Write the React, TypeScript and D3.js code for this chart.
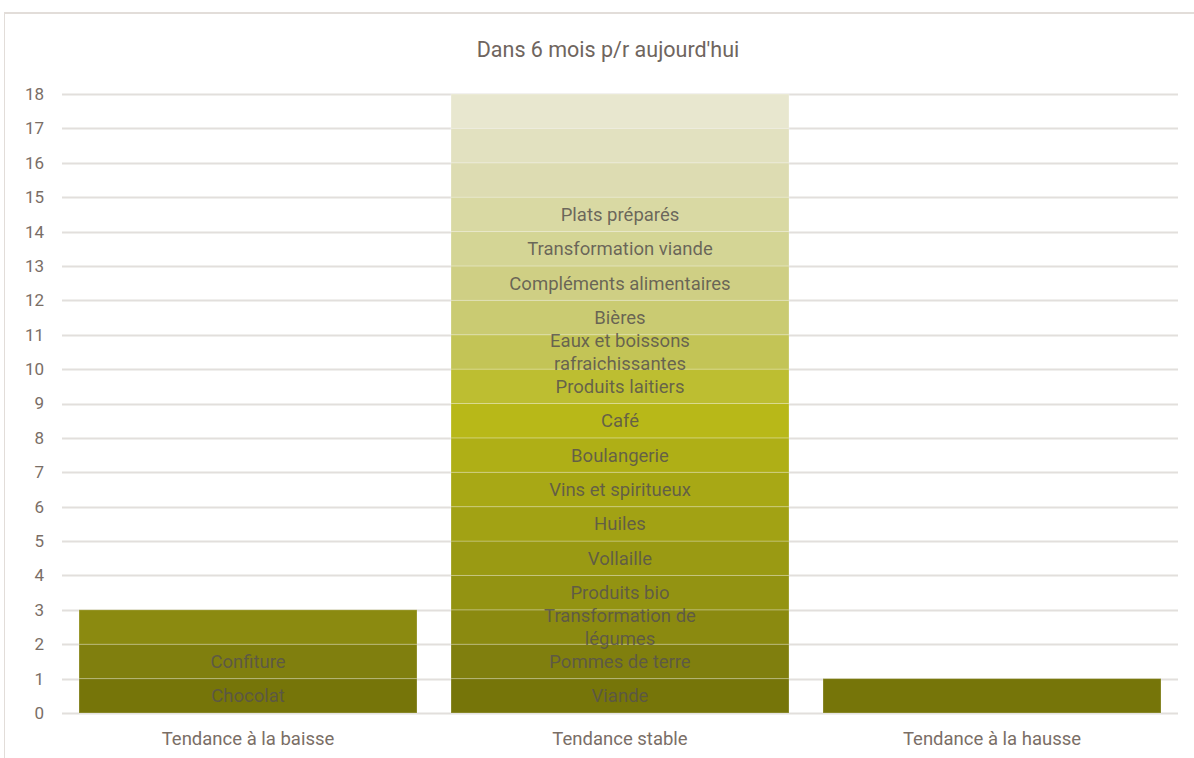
import React from 'react';
import * as d3 from 'd3';

const title = "Dans 6 mois p/r aujourd'hui";
const categories = ['Tendance à la baisse', 'Tendance stable', 'Tendance à la hausse'];

// one label per stacked segment (series order from bottom), '' = no label
const baisseLabels = ['Chocolat', 'Confiture', ''];
const stableLabels = [
    'Viande', 'Pommes de terre', 'Transformation de légumes', 'Produits bio', 'Vollaille',
    'Huiles', 'Vins et spiritueux', 'Boulangerie', 'Café', 'Produits laitiers',
    'Eaux et boissons rafraichissantes', 'Bières', 'Compléments alimentaires',
    'Transformation viande', 'Plats préparés', '', '', '',
];
const hausseLabels = [''];

const baisseValues = [1, 1, 1];
const stableValues = [1, 1, 1, 1, 1, 1, 1, 1, 1, 1, 1, 1, 1, 1, 1, 1, 1, 1];
const hausseValues = [1];

const yTicks = d3.range(0, 19);

// series colours, bottom to top
const seriesColors = [
    '#767509', '#807f0e', '#8b8a10', '#939312', '#9a9a13', '#a2a214',
    '#a8a815', '#afaf16', '#b8b818', '#bdbe31', '#c3c456', '#cacb72',
    '#cfcf84', '#d4d595', '#d9d9a3', '#dddcb2', '#e2e1c0', '#e8e7cf',
];

const groups = [
    { labels: baisseLabels, values: baisseValues },
    { labels: stableLabels, values: stableValues },
    { labels: hausseLabels, values: hausseValues },
];

const margin = { top: 94, left: 62, right: 16, bottom: 45 };
const W = 1194;
const H = 758;

// split a label in lines of 24 chars max
const wrap = (text: string) => {
    const words = text.split(' ');
    const lines: string[] = [];
    let cur = '';
    words.forEach((w) => {
        const next = cur ? `${cur} ${w}` : w;
        if (next.length > 24 && cur) {
            lines.push(cur);
            cur = w;
        } else {
            cur = next;
        }
    });
    if (cur) lines.push(cur);
    return lines;
};

const App = () => {
    const x = d3.scaleBand<string>()
        .domain(categories)
        .range([margin.left, W - margin.right])
        .paddingInner(34 / 372)
        .paddingOuter(17 / 372);
    const y = d3.scaleLinear()
        .domain([0, 18])
        .range([H - margin.bottom, margin.top]);

    const font = 'Roboto, "Noto Sans", sans-serif';

    return (
        <svg width={W} height={H} style={{ position: 'absolute', left: 0, top: 0, background: '#fff' }}
            fontFamily={font}>
            <line x1={4.5} x2={4.5} y1={12} y2={H} stroke="#e2ddd9" strokeWidth={1} />
            <line x1={4} x2={W} y1={13} y2={13} stroke="#e2ddd9" strokeWidth={2} />

            <text x={608} y={49} dy="0.35em" textAnchor="middle" fontSize={21.5} fill="#6f655e">{title}</text>

            {yTicks.map((t) => (
                <g key={t}>
                    <line x1={margin.left} x2={W - margin.right} y1={Math.round(y(t)) + 0.5}
                        y2={Math.round(y(t)) + 0.5} stroke="#e2dfdc" strokeWidth={2} />
                    <text x={44} y={y(t)} dy="0.35em" textAnchor="end" fontSize={17} fill="#7a6e66">{t}</text>
                </g>
            ))}

            {groups.map((g, gi) => {
                const cat = categories[gi];
                const x0 = x(cat) as number;
                const bw = x.bandwidth();
                const ends = Array.from(d3.cumsum(g.values));
                return (
                    <g key={cat}>
                        {g.values.map((v, i) => {
                            const top = y(ends[i]);
                            const bot = y(ends[i] - v);
                            return (
                                <rect key={i} x={x0} y={top} width={bw} height={bot - top}
                                    fill={seriesColors[i]} stroke="rgba(255,255,255,0.25)" strokeWidth={1} />
                            );
                        })}
                        {g.values.map((v, i) => {
                            const label = g.labels[i];
                            if (!label) return null;
                            const lines = wrap(label);
                            const cy = y(ends[i] - v / 2);
                            const lh = 22.5;
                            return (
                                <text key={`l${i}`} x={x0 + bw / 2} textAnchor="middle" fontSize={18.5}
                                    fill="#57524e" fillOpacity={0.85}>
                                    {lines.map((ln, li) => (
                                        <tspan key={li} x={x0 + bw / 2}
                                            y={cy + (li - (lines.length - 1) / 2) * lh} dy="0.35em">{ln}</tspan>
                                    ))}
                                </text>
                            );
                        })}
                        <text x={x0 + bw / 2} y={739} dy="0.35em" textAnchor="middle" fontSize={18.5}
                            fill="#7a6e66">{cat}</text>
                    </g>
                );
            })}
        </svg>
    );
};

export default App;
